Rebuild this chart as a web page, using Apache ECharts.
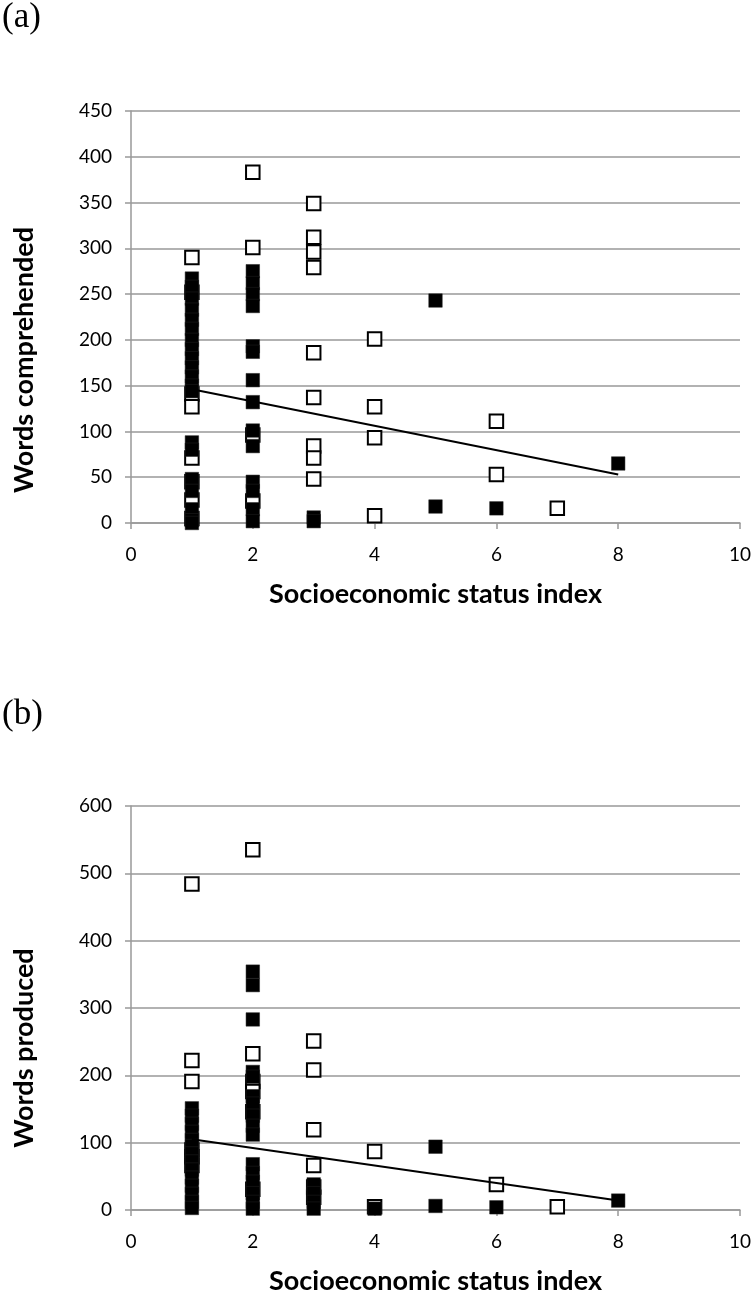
<!DOCTYPE html>
<html><head><meta charset="utf-8">
<script src="https://cdn.jsdelivr.net/npm/echarts@6/dist/echarts.min.js"></script>
<style>html,body{margin:0;padding:0;background:#fff}#c{width:755px;height:1296px}</style>
</head><body><div id="c"></div>
<script>
// Panel (a): words comprehended
const aOpenX = [1,1,1,1,1,1,1,1, 2,2,2,2, 3,3,3,3,3,3,3,3,3, 4,4,4,4, 6,6, 7];
const aOpenY = [290,252,141,127,71,45,25,5, 383,301,96,24, 349,312,296,279,186,137,84,71,48, 201,127,93,8, 111,53, 16];
const aFillX = [1,1,1,1,1,1,1,1,1,1,1,1,1,1,1,1,1,1,1,1, 2,2,2,2,2,2,2,2,2,2,2,2,2,2, 3,3, 5,5, 6, 8];
const aFillY = [267,258,245,233,222,212,200,190,180,170,160,150,144,88,80,48,35,15,3,0, 275,262,250,237,193,187,156,132,101,84,45,35,15,2, 6,2, 243,18, 16, 65];
const aTrendX = [1, 8];
const aTrendY = [146, 53];
// Panel (b): words produced
const bOpenX = [1,1,1,1,1,1, 2,2,2,2,2,2, 3,3,3,3,3,3, 4,4, 6, 7];
const bOpenY = [484,222,191,89,79,66, 535,232,191,176,146,31, 251,208,119,66,34,19, 87,5, 38, 5];
const bFillX = [1,1,1,1,1,1,1,1,1,1,1,1,1,1, 2,2,2,2,2,2,2,2,2,2,2,2,2,2,2,2, 3,3,3,3, 4, 5,5, 6, 8];
const bFillY = [151,140,128,116,104,95,84,72,60,48,36,24,12,3, 354,334,283,205,198,169,158,140,125,112,68,55,42,25,12,2, 38,25,12,2, 2, 94,6, 4, 14];
const bTrendX = [1, 8];
const bTrendY = [105, 14];

const zip = (xs, ys) => xs.map((x, i) => [x, ys[i]]);
const FONT = 'Lato';
const gridCol = '#999';

function xAxis(gi) {
  return {
    gridIndex: gi, type: 'value', min: 0, max: 10, interval: 2,
    name: 'Socioeconomic status index', nameLocation: 'middle', nameGap: 58,
    nameTextStyle: {fontFamily: FONT, fontWeight: 'bold', fontSize: 27, color: '#000'},
    axisLine: {show: true, lineStyle: {color: gridCol, width: 1.5}},
    axisTick: {show: true, length: 6, lineStyle: {color: gridCol, width: 1.5}},
    axisLabel: {fontFamily: FONT, fontSize: 19, color: '#000', margin: 22},
    splitLine: {show: false}
  };
}
function yAxis(gi, max, interval) {
  return {
    gridIndex: gi, type: 'value', min: 0, max: max, interval: interval,
    axisLine: {show: true, lineStyle: {color: gridCol, width: 1.5}},
    axisTick: {show: true, length: 6, lineStyle: {color: gridCol, width: 1.5}},
    axisLabel: {fontFamily: FONT, fontSize: 19, color: '#000', margin: 19},
    splitLine: {show: true, lineStyle: {color: gridCol, width: 1.5}}
  };
}
const openStyle = {color: '#fff', borderColor: '#000', borderWidth: 2, opacity: 1};
const fillStyle = {color: '#000', borderColor: '#222', borderWidth: 0.5, opacity: 1};
function scatter(gi, data, style) {
  return {type: 'scatter', xAxisIndex: gi, yAxisIndex: gi, data: data,
    symbol: 'rect', symbolSize: 13.5, itemStyle: style, silent: true, animation: false};
}
function trend(gi, data) {
  return {type: 'line', xAxisIndex: gi, yAxisIndex: gi, data: data, symbol: 'none',
    lineStyle: {color: '#000', width: 2}, silent: true, animation: false, z: 3};
}
function yTitle(text, cy) {
  return {type: 'text', x: 24, y: cy, rotation: Math.PI / 2,
    style: {text: text, fontFamily: FONT, fontWeight: 'bold', fontSize: 27, fill: '#000',
      align: 'center', verticalAlign: 'middle'}};
}

const chart = echarts.init(document.getElementById('c'), null, {renderer: 'canvas'});
chart.setOption({
  backgroundColor: '#fff',
  animation: false,
  graphic: [
    {type: 'text', left: 2, top: 0, style: {text: '(a)', font: '35px "Liberation Serif"', fill: '#000'}},
    {type: 'text', left: 2, top: 697, style: {text: '(b)', font: '35px "Liberation Serif"', fill: '#000'}},
    yTitle('Words comprehended', 360),
    yTitle('Words produced', 1048)
  ],
  grid: [
    {left: 131, right: 15, top: 111, height: 412},
    {left: 131, right: 15, top: 806, height: 407}
  ],
  xAxis: [xAxis(0), xAxis(1)],
  yAxis: [yAxis(0, 450, 50), yAxis(1, 600, 100)],
  series: [
    scatter(0, zip(aOpenX, aOpenY), openStyle),
    scatter(0, zip(aFillX, aFillY), fillStyle),
    trend(0, zip(aTrendX, aTrendY)),
    scatter(1, zip(bOpenX, bOpenY), openStyle),
    scatter(1, zip(bFillX, bFillY), fillStyle),
    trend(1, zip(bTrendX, bTrendY))
  ]
});
</script></body></html>
